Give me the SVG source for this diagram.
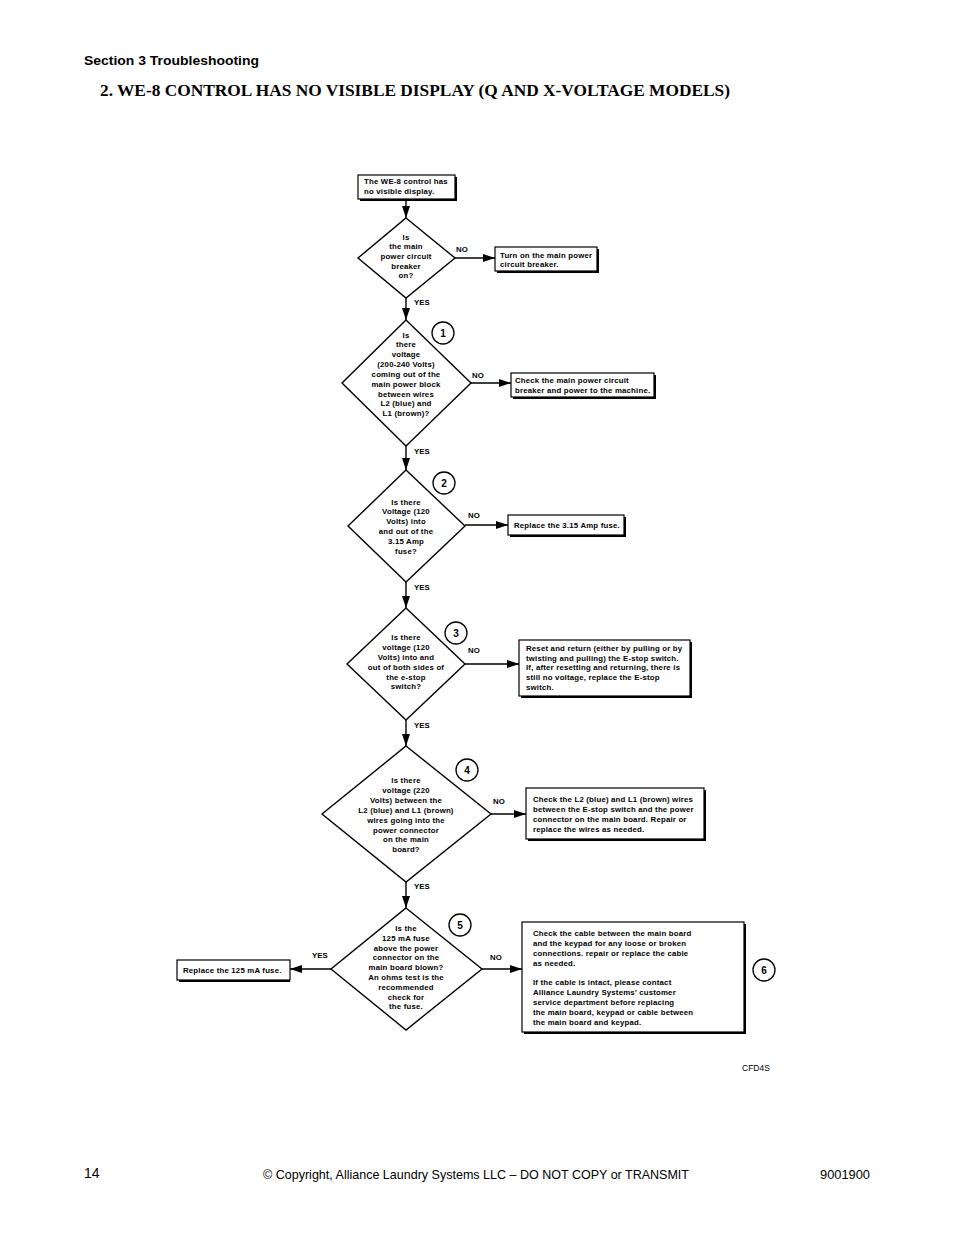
<svg xmlns="http://www.w3.org/2000/svg" width="954" height="1235" viewBox="0 0 954 1235">
<defs>
<style>
.t{font-family:"Liberation Sans",Arial,sans-serif;font-size:7.8px;letter-spacing:0.2px;font-weight:bold;fill:#000}
.c{text-anchor:middle}
.lbl{font-family:"Liberation Sans",Arial,sans-serif;font-size:7.8px;font-weight:bold;fill:#000}
.box{fill:#fff;stroke:#000;stroke-width:1.2}
.sh{fill:#000}
.dia{fill:#fff;stroke:#000;stroke-width:1.4}
.ln{stroke:#000;stroke-width:1.4;fill:none}
.num{fill:#fff;stroke:#000;stroke-width:1.3}
.nt{font-family:"Liberation Sans",Arial,sans-serif;font-size:10px;font-weight:bold;text-anchor:middle}
</style>
<marker id="ah" viewBox="0 0 12 8" refX="12" refY="4" markerWidth="12" markerHeight="8" markerUnits="userSpaceOnUse" orient="auto">
<path d="M0,0 L12,4 L0,8 Z" fill="#000"/>
</marker>
</defs>
<rect width="954" height="1235" fill="#fff"/>
<text x="84" y="65" font-family="'Liberation Sans',Arial,sans-serif" font-size="13.5" font-weight="bold" textLength="175" lengthAdjust="spacingAndGlyphs">Section 3 Troubleshooting</text>
<text x="100" y="96" font-family="'Liberation Serif','Times New Roman',serif" font-size="17.5" font-weight="bold" textLength="630" lengthAdjust="spacingAndGlyphs">2. WE-8 CONTROL HAS NO VISIBLE DISPLAY (Q AND X-VOLTAGE MODELS)</text>

<g id="connectors">
<line class="ln" x1="406" y1="199" x2="406" y2="218" marker-end="url(#ah)"/>
<line class="ln" x1="455" y1="258" x2="495" y2="258" marker-end="url(#ah)"/>
<line class="ln" x1="406" y1="298" x2="406" y2="320" marker-end="url(#ah)"/>
<line class="ln" x1="471" y1="383" x2="511" y2="383" marker-end="url(#ah)"/>
<line class="ln" x1="406" y1="446" x2="406" y2="470" marker-end="url(#ah)"/>
<line class="ln" x1="465" y1="525" x2="508" y2="525" marker-end="url(#ah)"/>
<line class="ln" x1="406" y1="582" x2="406" y2="608" marker-end="url(#ah)"/>
<line class="ln" x1="465" y1="664" x2="519" y2="664" marker-end="url(#ah)"/>
<line class="ln" x1="406" y1="720" x2="406" y2="746" marker-end="url(#ah)"/>
<line class="ln" x1="491" y1="814" x2="526" y2="814" marker-end="url(#ah)"/>
<line class="ln" x1="406" y1="882" x2="406" y2="908" marker-end="url(#ah)"/>
<line class="ln" x1="331" y1="969" x2="290" y2="969" marker-end="url(#ah)"/>
<line class="ln" x1="482" y1="969" x2="522" y2="969" marker-end="url(#ah)"/>
<text class="lbl" x="456" y="252">NO</text>
<text class="lbl" x="414" y="305">YES</text>
<text class="lbl" x="472" y="378">NO</text>
<text class="lbl" x="414" y="454">YES</text>
<text class="lbl" x="468" y="518">NO</text>
<text class="lbl" x="414" y="590">YES</text>
<text class="lbl" x="468" y="653">NO</text>
<text class="lbl" x="414" y="728">YES</text>
<text class="lbl" x="493" y="804">NO</text>
<text class="lbl" x="414" y="889">YES</text>
<text class="lbl" x="312" y="958">YES</text>
<text class="lbl" x="490" y="960">NO</text>
</g>

<g id="start">
<rect class="sh" x="360" y="177" width="97" height="24"/>
<rect class="box" x="358" y="175" width="97" height="24"/>
<text class="t" x="364" y="184">The WE-8 control has</text>
<text class="t" x="364" y="194">no visible display.</text>
</g>

<g id="q1">
<polygon class="dia" points="406,218 455,258 406,298 358,258"/>
<text class="t c" x="406" y="240">Is</text>
<text class="t c" x="406" y="249">the main</text>
<text class="t c" x="406" y="259">power circuit</text>
<text class="t c" x="406" y="269">breaker</text>
<text class="t c" x="406" y="278">on?</text>
</g>
<g id="a1">
<rect class="sh" x="497" y="249" width="102" height="24"/>
<rect class="box" x="495" y="247" width="102" height="24"/>
<text class="t" x="500" y="258">Turn on the main power</text>
<text class="t" x="500" y="267">circuit breaker.</text>
</g>

<g id="q2">
<polygon class="dia" points="406,320 471,383 406,446 342,383"/>
<text class="t c" x="406" y="338">Is</text>
<text class="t c" x="406" y="347">there</text>
<text class="t c" x="406" y="357">voltage</text>
<text class="t c" x="406" y="367">(200-240 Volts)</text>
<text class="t c" x="406" y="377">coming out of the</text>
<text class="t c" x="406" y="387">main power block</text>
<text class="t c" x="406" y="397">between wires</text>
<text class="t c" x="406" y="406">L2 (blue) and</text>
<text class="t c" x="406" y="416">L1 (brown)?</text>
<circle class="num" cx="443" cy="333" r="11"/>
<text class="nt" x="443" y="337">1</text>
</g>
<g id="a2">
<rect class="sh" x="513" y="375" width="143" height="24"/>
<rect class="box" x="511" y="373" width="143" height="24"/>
<text class="t" x="515" y="383">Check the main power circuit</text>
<text class="t" x="515" y="393">breaker and power to the machine.</text>
</g>

<g id="q3">
<polygon class="dia" points="406,470 465,526 406,582 348,526"/>
<text class="t c" x="406" y="505">Is there</text>
<text class="t c" x="406" y="514">Voltage (120</text>
<text class="t c" x="406" y="524">Volts) into</text>
<text class="t c" x="406" y="534">and out of the</text>
<text class="t c" x="406" y="544">3.15 Amp</text>
<text class="t c" x="406" y="554">fuse?</text>
<circle class="num" cx="444" cy="483" r="11"/>
<text class="nt" x="444" y="487">2</text>
</g>
<g id="a3">
<rect class="sh" x="510" y="517" width="116" height="20"/>
<rect class="box" x="508" y="515" width="116" height="20"/>
<text class="t" x="514" y="528">Replace the 3.15 Amp fuse.</text>
</g>

<g id="q4">
<polygon class="dia" points="406,608 465,664 406,720 347,664"/>
<text class="t c" x="406" y="640">Is there</text>
<text class="t c" x="406" y="650">voltage (120</text>
<text class="t c" x="406" y="660">Volts) into and</text>
<text class="t c" x="406" y="670">out of both sides of</text>
<text class="t c" x="406" y="680">the e-stop</text>
<text class="t c" x="406" y="689">switch?</text>
<circle class="num" cx="456" cy="633" r="11"/>
<text class="nt" x="456" y="637">3</text>
</g>
<g id="a4">
<rect class="sh" x="521" y="642" width="171" height="56"/>
<rect class="box" x="519" y="640" width="171" height="56"/>
<text class="t" x="526" y="651">Reset and return (either by pulling or by</text>
<text class="t" x="526" y="661">twisting and pulling) the E-stop switch.</text>
<text class="t" x="526" y="670">If, after resetting and returning, there is</text>
<text class="t" x="526" y="680">still no voltage, replace the E-stop</text>
<text class="t" x="526" y="690">switch.</text>
</g>

<g id="q5">
<polygon class="dia" points="406,746 491,814 406,882 322,814"/>
<text class="t c" x="406" y="783">Is there</text>
<text class="t c" x="406" y="793">voltage (220</text>
<text class="t c" x="406" y="803">Volts) between the</text>
<text class="t c" x="406" y="813">L2 (blue) and L1 (brown)</text>
<text class="t c" x="406" y="823">wires going into the</text>
<text class="t c" x="406" y="833">power connector</text>
<text class="t c" x="406" y="842">on the main</text>
<text class="t c" x="406" y="852">board?</text>
<circle class="num" cx="467" cy="770" r="11"/>
<text class="nt" x="467" y="774">4</text>
</g>
<g id="a5">
<rect class="sh" x="528" y="790" width="178" height="51"/>
<rect class="box" x="526" y="788" width="178" height="51"/>
<text class="t" x="533" y="802">Check the L2 (blue) and L1 (brown) wires</text>
<text class="t" x="533" y="812">between the E-stop switch and the power</text>
<text class="t" x="533" y="822">connector on the main board. Repair or</text>
<text class="t" x="533" y="832">replace the wires as needed.</text>
</g>

<g id="q6">
<polygon class="dia" points="406,908 482,969 406,1030 331,969"/>
<text class="t c" x="406" y="931">Is the</text>
<text class="t c" x="406" y="941">125 mA fuse</text>
<text class="t c" x="406" y="951">above the power</text>
<text class="t c" x="406" y="960">connector on the</text>
<text class="t c" x="406" y="970">main board blown?</text>
<text class="t c" x="406" y="980">An ohms test is the</text>
<text class="t c" x="406" y="990">recommended</text>
<text class="t c" x="406" y="1000">check for</text>
<text class="t c" x="406" y="1009">the fuse.</text>
<circle class="num" cx="460" cy="925" r="11"/>
<text class="nt" x="460" y="929">5</text>
</g>
<g id="a6yes">
<rect class="sh" x="179" y="962" width="111" height="20"/>
<rect class="box" x="177" y="960" width="113" height="20"/>
<text class="t" x="183" y="973">Replace the 125 mA fuse.</text>
</g>
<g id="a6no">
<rect class="sh" x="524" y="924" width="222" height="110"/>
<rect class="box" x="522" y="922" width="222" height="110"/>
<text class="t" x="533" y="936">Check the cable between the main board</text>
<text class="t" x="533" y="946">and the keypad for any loose or broken</text>
<text class="t" x="533" y="956">connections. repair or replace the cable</text>
<text class="t" x="533" y="966">as needed.</text>
<text class="t" x="533" y="985">If the cable is intact, please contact</text>
<text class="t" x="533" y="995">Alliance Laundry Systems’ customer</text>
<text class="t" x="533" y="1005">service department before replacing</text>
<text class="t" x="533" y="1015">the main board, keypad or cable between</text>
<text class="t" x="533" y="1025">the main board and keypad.</text>
<circle class="num" cx="764" cy="970" r="11"/>
<text class="nt" x="764" y="974">6</text>
</g>

<text x="742" y="1071" font-family="'Liberation Sans',Arial,sans-serif" font-size="8.5">CFD4S</text>
<text x="84" y="1178" font-family="'Liberation Sans',Arial,sans-serif" font-size="14">14</text>
<text x="263" y="1179" font-family="'Liberation Sans',Arial,sans-serif" font-size="13" textLength="426" lengthAdjust="spacingAndGlyphs">© Copyright, Alliance Laundry Systems LLC – DO NOT COPY or TRANSMIT</text>
<text x="820" y="1179" font-family="'Liberation Sans',Arial,sans-serif" font-size="13" textLength="50" lengthAdjust="spacingAndGlyphs">9001900</text>
</svg>
